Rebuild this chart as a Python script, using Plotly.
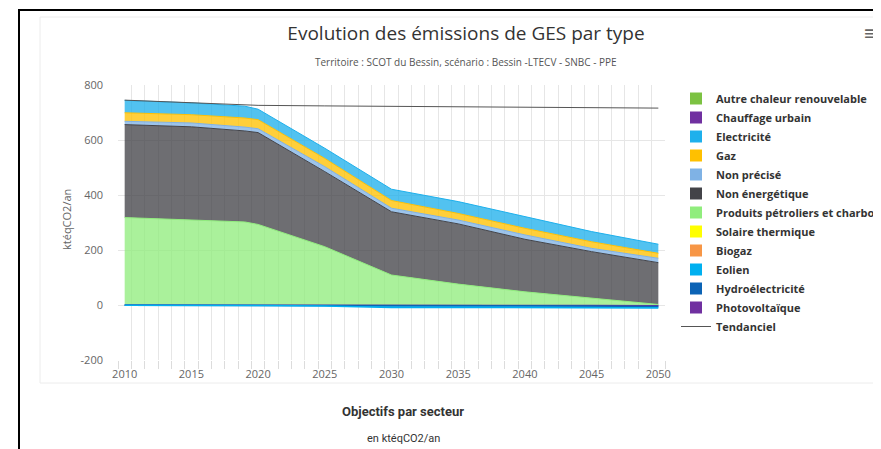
import plotly.graph_objects as go

# ---------------- data ----------------
years = [2010, 2015, 2019, 2020, 2025, 2030, 2035, 2040, 2045, 2050]

autre_chaleur = [0, 0, 0, 0, 0, 0, 0, 0, 0, 0]
chauffage_urbain = [0, 0, 0, 0, 0, 0, 0, 0, 0, 0]
electricite = [45, 43, 43, 38, 37, 41, 43, 42, 37, 33]
gaz = [31, 30, 33, 33, 30, 28, 24, 24, 24, 18]
non_precise = [12, 14, 14, 14, 18, 13, 14, 16, 12, 16]
non_energetique = [338, 339, 331, 334, 273, 230, 219, 191, 170, 152]
produits_petroliers = [318, 309, 302, 293, 212, 109, 76, 48, 24, 2]
solaire_thermique = [0, 0, 0, 0, 0, 0, 0, 0, 0, 0]
biogaz = [0, 0, 0, 0, 0, 0, 0, 0, 0, 0]
eolien = [0, 0, 0, -1, -3, -6, -6, -6, -6, -6]
hydroelectricite = [-1, -1, -1, -1, -1, -2, -2, -2, -2, -2]
photovoltaique = [0, 0, 0, 0, 0, -1, -1, -1, -2, -3]
tendanciel = [745, 735, 727, 726, 724, 722, 721, 720, 718, 716]

tick_years = [2010, 2015, 2020, 2025, 2030, 2035, 2040, 2045, 2050]
tick_labels = ["2010", "2015", "2020", "2025", "2030", "2035", "2040", "2045", "2050"]
y_ticks = [-200, 0, 200, 400, 600, 800]
y_labels = ["-200", "0", "200", "400", "600", "800"]

names = ["Autre chaleur renouvelable", "Chauffage urbain", "Electricité", "Gaz",
         "Non précisé", "Non énergétique", "Produits pétroliers et charbon",
         "Solaire thermique", "Biogaz", "Eolien", "Hydroélectricité", "Photovoltaïque"]
values = [autre_chaleur, chauffage_urbain, electricite, gaz, non_precise, non_energetique,
          produits_petroliers, solaire_thermique, biogaz, eolien, hydroelectricite, photovoltaique]
colors = ["#7cc242", "#7030a0", "#1eb0ec", "#ffc000", "#7fb2e5", "#434348",
          "#90ed7d", "#ffff00", "#f79646", "#00b0f0", "#0b63b5", "#7030a0"]

# ---------------- geometry (screen pixels; page body has an 8px margin) ----------------
OFF = 8
W, H = 881 - OFF, 449 - OFF
SL, SR, ST, SB = 118, 665, 85, 360  # plot area in screen pixels


def px(x):
    return (x - SL) / (SR - SL)


def py(y):
    return (SB - y) / (SB - ST)


def rgba(hex_color, a):
    h = hex_color.lstrip("#")
    r, g, b = int(h[0:2], 16), int(h[2:4], 16), int(h[4:6], 16)
    return f"rgba({r},{g},{b},{a})"


fig = go.Figure()

# Stacking order: positives bottom -> top, negatives near zero -> outward
positive_order = [8, 7, 6, 5, 4, 3, 2, 1, 0]
negative_order = [11, 10, 9]

for i in positive_order:
    allzero = all(v == 0 for v in values[i])
    fig.add_trace(go.Scatter(
        x=years, y=values[i], name=names[i], stackgroup="pos", mode="lines",
        line=dict(color=colors[i], width=0 if allzero else 1),
        fillcolor=rgba(colors[i], 0.77), showlegend=False))

for i in negative_order:
    fig.add_trace(go.Scatter(
        x=years, y=values[i], name=names[i], stackgroup="neg", mode="lines",
        line=dict(color=colors[i], width=1.5),
        fillcolor=rgba(colors[i], 0.8), showlegend=False))

fig.add_trace(go.Scatter(
    x=years, y=tendanciel, name="Tendanciel", mode="lines",
    line=dict(color="#555555", width=1), legendrank=100))

# legend entries (square swatches)
for rank, i in enumerate(range(len(names))):
    fig.add_trace(go.Scatter(
        x=[None], y=[None], mode="markers", name=names[i],
        marker=dict(symbol="square", size=12, color=colors[i]),
        legendrank=rank + 1))

grid_positions = [2009.5 + k for k in range(42)]

fig.update_layout(
    width=W, height=H,
    margin=dict(l=SL - OFF, r=W - (SR - OFF), t=ST - OFF, b=H - (SB - OFF), autoexpand=False),
    paper_bgcolor="white", plot_bgcolor="white",
    font=dict(family="Open Sans", color="#333333"),
    title=dict(text="Evolution des émissions de GES par type",
               x=(466 - OFF) / W, xref="container", xanchor="center",
               y=1 - (33 - OFF) / H, yref="container", yanchor="middle",
               font=dict(size=19, color="#333333", family="Open Sans")),
    showlegend=True,
    legend=dict(x=px(676), y=py(84), xanchor="left", yanchor="top",
                xref="paper", yref="paper", bgcolor="rgba(0,0,0,0)",
                font=dict(size=11, color="#333333", family="Open Sans", weight="bold"),
                traceorder="normal", itemwidth=30, maxheight=1000),
    xaxis=dict(range=[2009.5, 2050.5], tickmode="array", tickvals=tick_years,
               ticktext=tick_labels, showgrid=False, ticks="", zeroline=False,
               showline=False, ticklabelstandoff=6,
               tickfont=dict(size=11, color="#666666", family="Open Sans"),
               minor=dict(tickmode="array", tickvals=grid_positions, showgrid=True,
                          gridcolor="#e6e6e6", gridwidth=1, ticks="outside",
                          ticklen=8, tickcolor="#dcdcdc")),
    yaxis=dict(range=[-200, 800], tickmode="array", tickvals=y_ticks, ticktext=y_labels,
               showgrid=True, gridcolor="#e6e6e6", zeroline=False, showline=False,
               ticklabelstandoff=14,
               tickfont=dict(size=11, color="#666666", family="Open Sans")),
    hovermode=False,
)

annotations = [
    dict(text="Territoire : SCOT du Bessin, scénario : Bessin -LTECV - SNBC - PPE",
         x=px(466), y=py(62), font=dict(size=10, color="#555555", family="Open Sans")),
    dict(text="ktéqCO2/an", x=px(66), y=py(220), textangle=-90,
         font=dict(size=11, color="#666666", family="Open Sans")),
    dict(text="<b>Objectifs par secteur</b>", x=px(403), y=py(411),
         font=dict(size=13, color="#333333", family="Roboto")),
    dict(text="en ktéqCO2/an", x=px(403), y=py(438),
         font=dict(size=11, color="#333333", family="Roboto")),
    dict(text="≡", x=px(871), y=py(33),
         font=dict(size=20, color="#666666", family="DejaVu Sans")),
]
for a in annotations:
    a.update(xref="paper", yref="paper", showarrow=False, xanchor="center", yanchor="middle")
fig.update_layout(annotations=annotations)

shapes = [
    dict(type="rect", x0=px(40), x1=px(900), y0=py(17), y1=py(383),
         line=dict(color="#ececec", width=1), fillcolor="rgba(0,0,0,0)", layer="below"),
    dict(type="line", x0=px(19), x1=px(19), y0=py(10), y1=py(460),
         line=dict(color="black", width=2)),
    dict(type="line", x0=px(18), x1=px(900), y0=py(10), y1=py(10),
         line=dict(color="black", width=2)),
]
for s in shapes:
    s.update(xref="paper", yref="paper")
fig.update_layout(shapes=shapes)

fig.write_html("out.html")
